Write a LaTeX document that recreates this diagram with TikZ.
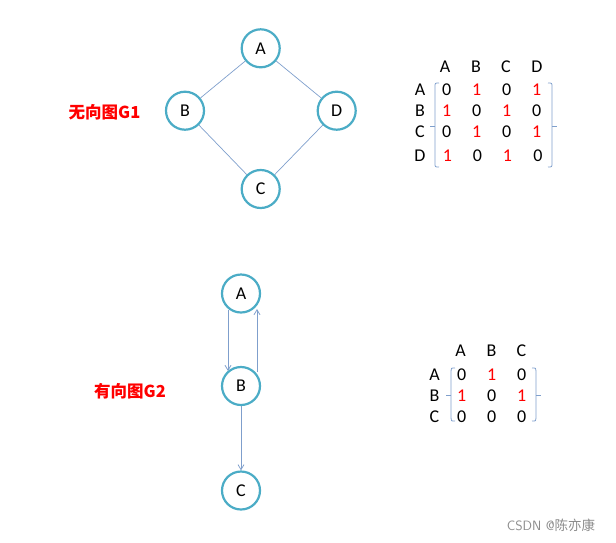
\documentclass[tikz,border=0pt]{standalone}
\usepackage{fontspec}
\setmainfont{Carlito}
\newfontfamily\cjk{Noto Sans CJK SC}
\usetikzlibrary{arrows.meta}
\definecolor{ring}{HTML}{4BACC6}
\definecolor{edge}{HTML}{7F9FCC}
\definecolor{brk}{HTML}{7F9FCC}
\tikzset{
  vert/.style={circle,draw=ring,line width=2.2pt,minimum size=38pt,inner sep=0pt,fill=white,font=\fontsize{18}{18}\selectfont},
  link/.style={draw=edge,line width=0.7pt},
  arr/.style={draw=edge,line width=0.8pt,-{Straight Barb[length=5pt,width=6pt]}},
  lbl/.style={inner sep=0pt,font=\fontsize{18}{18}\selectfont},
  one/.style={lbl,text=red},
  title/.style={inner sep=0pt,text=red,font=\cjk\bfseries\fontsize{16.5}{16.5}\selectfont},
  bracket/.style={draw=brk,line width=0.8pt}
}
\begin{document}
\begin{tikzpicture}[x=1pt,y=-1pt]
\useasboundingbox (0,0) rectangle (616,542);
% undirected graph G1
\node[vert] (A1) at (260.7,48.3) {A};
\node[vert] (B1) at (185,110.7) {B};
\node[vert] (D1) at (336.7,110.7) {D};
\node[vert] (C1) at (260.7,189) {C};
\draw[link] (A1) -- (B1);
\draw[link] (A1) -- (D1);
\draw[link] (B1) -- (C1);
\draw[link] (D1) -- (C1);
\node[title] (t1) at (104.5,112) {无向图G1};
% matrix 1
\node[lbl] (h1a) at (445,67) {A};
\node[lbl] (h1b) at (476,67) {B};
\node[lbl] (h1c) at (506,67) {C};
\node[lbl] (h1d) at (537,67) {D};
\node[lbl] (r1a) at (420,90) {A};
\node[lbl] (r1b) at (420,111) {B};
\node[lbl] (r1c) at (420,132) {C};
\node[lbl] (r1d) at (420,156) {D};
\node[lbl] (m11) at (446.7,90) {0};
\node[one] (m12) at (476.7,90) {1};
\node[lbl] (m13) at (506.7,90) {0};
\node[one] (m14) at (536.7,90) {1};
\node[one] (m21) at (446.7,111) {1};
\node[lbl] (m22) at (476.7,111) {0};
\node[one] (m23) at (506.7,111) {1};
\node[lbl] (m24) at (536.7,111) {0};
\node[lbl] (m31) at (446.7,132) {0};
\node[one] (m32) at (476.7,132) {1};
\node[lbl] (m33) at (506.7,132) {0};
\node[one] (m34) at (536.7,132) {1};
\node[one] (m41) at (447.5,156) {1};
\node[lbl] (m42) at (477.5,156) {0};
\node[one] (m43) at (507.5,156) {1};
\node[lbl] (m44) at (538,156) {0};
\draw[bracket] (439,83) .. controls (435,83) .. (435,87) -- (435,163) .. controls (435,167) .. (439,167);
\draw[bracket] (435,126) -- (430,126);
\draw[bracket] (548,83) .. controls (552,83) .. (552,87) -- (552,163) .. controls (552,167) .. (548,167);
\draw[bracket] (552,126) -- (557,126);
% directed graph G2
\node[vert] (A2) at (241,293.5) {A};
\node[vert] (B2) at (241,386) {B};
\node[vert] (C2) at (241,490.5) {C};
\coordinate (ab0) at (228,310);
\coordinate (ab1) at (228,371);
\coordinate (ba0) at (257,372);
\coordinate (ba1) at (257,309);
\draw[arr] (ab0) -- (ab1);
\draw[arr] (ba0) -- (ba1);
\draw[arr] (B2) -- (C2);
\node[title] (t2) at (130,391) {有向图G2};
% matrix 2
\node[lbl] (h2a) at (460.5,351) {A};
\node[lbl] (h2b) at (491.5,351) {B};
\node[lbl] (h2c) at (521.5,351) {C};
\node[lbl] (r2a) at (434.5,374.5) {A};
\node[lbl] (r2b) at (434.5,395.7) {B};
\node[lbl] (r2c) at (434.5,417) {C};
\node[lbl] (n11) at (461.7,374.5) {0};
\node[one] (n12) at (491.7,374.5) {1};
\node[lbl] (n13) at (521.7,374.5) {0};
\node[one] (n21) at (461.7,395.7) {1};
\node[lbl] (n22) at (491.7,395.7) {0};
\node[one] (n23) at (521.7,395.7) {1};
\node[lbl] (n31) at (461.7,417) {0};
\node[lbl] (n32) at (491.7,417) {0};
\node[lbl] (n33) at (521.7,417) {0};
\draw[bracket] (455,368) .. controls (451,368) .. (451,371) -- (451,418) .. controls (451,421) .. (455,421);
\draw[bracket] (451,395.7) -- (445.5,395.7);
\draw[bracket] (532,368) .. controls (536,368) .. (536,371) -- (536,418) .. controls (536,421) .. (532,421);
\draw[bracket] (536,395.7) -- (541,395.7);
% watermark
\node[inner sep=0pt,text=black!45,font=\sffamily\fontsize{13.5}{13.5}\selectfont] (wm) at (551,525) {CSDN @{\cjk 陈亦康}};
\end{tikzpicture}
\end{document}
